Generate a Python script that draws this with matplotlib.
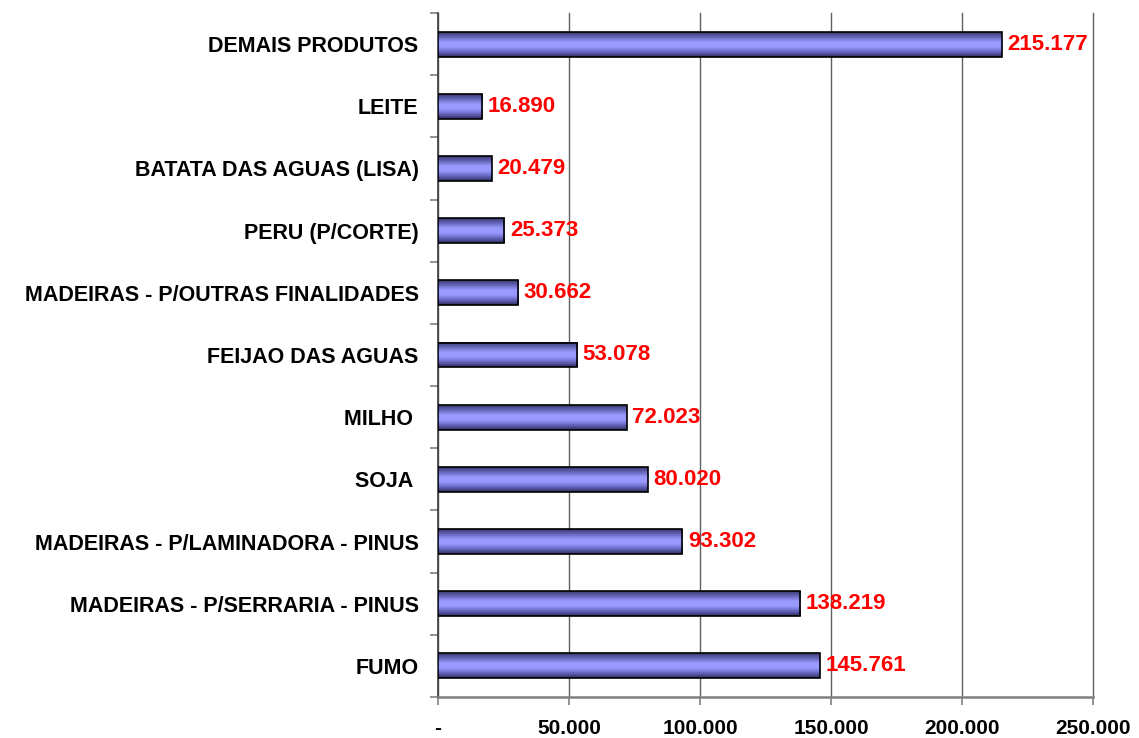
import numpy as np
import matplotlib.pyplot as plt
from matplotlib.colors import LinearSegmentedColormap
from matplotlib.ticker import FixedLocator, FuncFormatter

plt.rcParams['font.family'] = ['Liberation Sans', 'DejaVu Sans']

produtos = ['FUMO', 'MADEIRAS - P/SERRARIA - PINUS', 'MADEIRAS - P/LAMINADORA - PINUS',
            'SOJA ', 'MILHO ', 'FEIJAO DAS AGUAS', 'MADEIRAS - P/OUTRAS FINALIDADES',
            'PERU (P/CORTE)', 'BATATA DAS AGUAS (LISA)', 'LEITE', 'DEMAIS PRODUTOS']
valores = [145761, 138219, 93302, 80020, 72023, 53078, 30662, 25373, 20479, 16890, 215177]
x_ticks = [0, 50000, 100000, 150000, 200000, 250000]


def fmt_br(v):
    if v == 0:
        return '-'
    return f'{v:,.0f}'.replace(',', '.')


fig = plt.figure(figsize=(11.39, 7.38), dpi=100)
ax = fig.add_axes([438 / 1139, 1 - 697 / 738, (1093 - 438) / 1139, (697 - 13) / 738])

pos = np.arange(len(produtos))
h = 0.40
bars = ax.barh(pos, valores, height=h, facecolor='none', edgecolor='black', linewidth=1.2, zorder=4)

# vertical gradient inside each bar (dark edges, light middle)
cmap = LinearSegmentedColormap.from_list('bar', ['#2e2e5c', '#6666c0', '#9999ff', '#9a9aff', '#6666bb', '#3a3a70'])
grad = np.linspace(0, 1, 64).reshape(-1, 1)
for b in bars:
    x0, y0 = b.get_x(), b.get_y()
    ax.imshow(grad, cmap=cmap, aspect='auto', interpolation='bilinear', origin='lower',
              extent=[x0, x0 + b.get_width(), y0, y0 + b.get_height()], zorder=3)

for p, v in zip(pos, valores):
    ax.annotate(fmt_br(v), xy=(v, p), xytext=(4, 0), textcoords='offset points',
                ha='left', va='center', color='#ff0000', fontsize=16, fontweight='bold', zorder=5)

ax.set_xlim(0, 250000)
ax.set_ylim(-0.5, len(produtos) - 0.5)

ax.set_xticks(x_ticks)
ax.xaxis.set_major_formatter(FuncFormatter(lambda v, _: fmt_br(v)))
ax.tick_params(axis='x', length=6, width=1.2, color='#808080', pad=10, labelsize=15)
for lbl in ax.get_xticklabels():
    lbl.set_fontweight('bold')

ax.set_yticks(pos)
ax.set_yticklabels(produtos, fontsize=15.5, fontweight='bold')
ax.yaxis.set_minor_locator(FixedLocator(np.arange(-0.5, len(produtos), 1.0)))
ax.tick_params(axis='y', which='major', length=0, pad=14)
ax.tick_params(axis='y', which='minor', length=6, width=1.2, color='#808080')

ax.grid(axis='x', color='#606060', linewidth=1, zorder=1)
ax.set_axisbelow(True)
for gl in ax.get_xgridlines():
    gl.set_clip_on(False)
for s in ['top', 'right']:
    ax.spines[s].set_visible(False)
ax.spines['left'].set_color('#404040')
ax.spines['left'].set_linewidth(1.2)
ax.spines['bottom'].set_color('#808080')
ax.spines['bottom'].set_linewidth(1.8)

fig.savefig('out.png', dpi=100)
